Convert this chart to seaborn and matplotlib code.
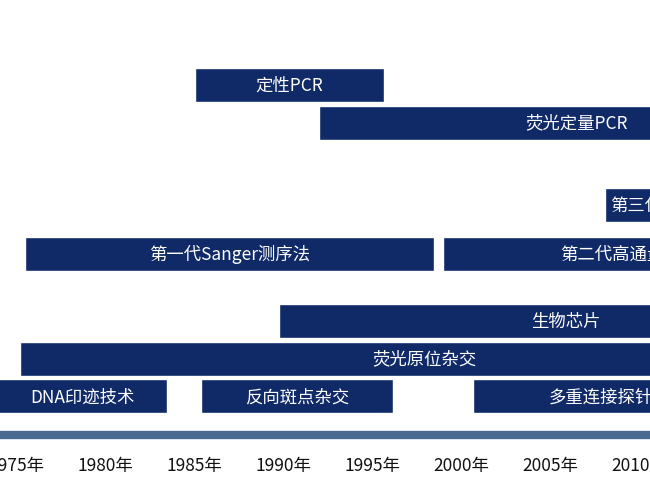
import matplotlib.pyplot as plt
import seaborn as sns

sns.set_theme(style="white")
plt.rcParams['font.family'] = ['Noto Sans CJK SC', 'DejaVu Sans']

# technology timeline (start year, end year, row)
labels = ['定性PCR', '荧光定量PCR', '第三代测序', '第一代Sanger测序法', '第二代高通量测序',
          '生物芯片', '荧光原位杂交', 'DNA印迹技术', '反向斑点杂交', '多重连接探针扩增']
starts = [1985.05, 1992.0, 2008.1, 1975.5, 1999.0, 1989.8, 1975.2, 1974.0, 1985.4, 2000.7]
ends = [1995.7, 2021.0, 2013.5, 1998.5, 2020.0, 2022.0, 2020.7, 1983.5, 1996.2, 2017.0]
rows = [0, 1, 3.2, 4.5, 4.5, 6.3, 7.3, 8.3, 8.3, 8.3]
years = [1975, 1980, 1985, 1990, 1995, 2000, 2005, 2010]

fig = plt.figure(figsize=(6.5, 4.87), dpi=100)
ax = fig.add_axes([0, 0, 1, 1])
px = 17.8  # pixels per year
x0 = 1980 - 105 / px
ax.set_xlim(x0, x0 + 650 / px)
# rows in pixel-like units: row r top at 68 + r*37.5
ax.set_ylim(487, 0)

navy = '#102a68'
for lab, s, e, r in zip(labels, starts, ends, rows):
    top = 68 + r * 37.5
    ax.barh(top + 17, e - s, left=s, height=34, color=navy)
    ax.text((s + e) / 2, top + 18, lab, color='white', fontsize=12.5,
            ha='center', va='center', clip_on=True)

ax.plot([x0, x0 + 650 / px], [435, 435], color='#4a6a94', lw=6, solid_capstyle='butt')
for y in years:
    ax.text(y, 466, f'{y}年', fontsize=12.5, ha='center', va='center', color='#111111')
ax.axis('off')
fig.savefig('out.png', dpi=100)
